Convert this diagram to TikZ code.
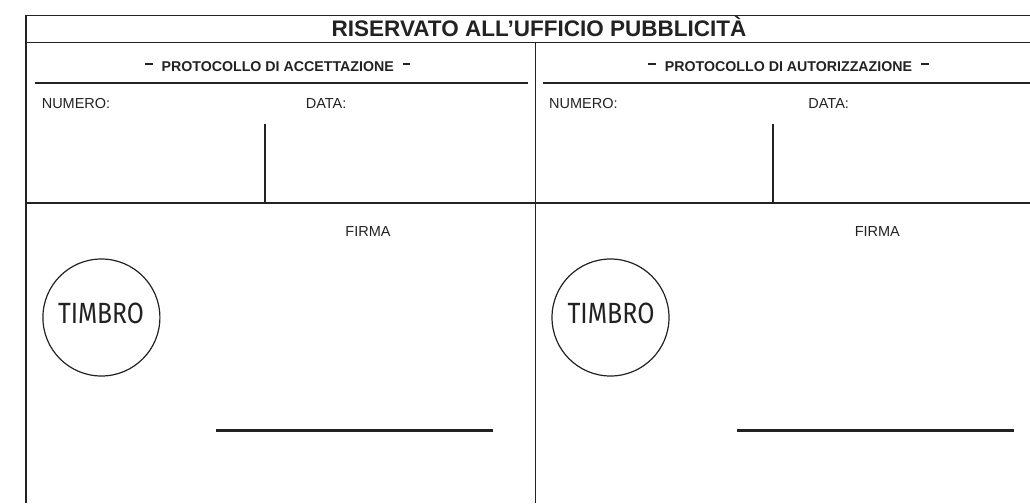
\documentclass[tikz,border=0pt]{standalone}
\usepackage{fontspec}
\setmainfont{Liberation Sans}
\newfontfamily\timbrofont{Fira Sans}
\definecolor{ink}{HTML}{222222}
\definecolor{txt}{HTML}{222222}
\begin{document}
\begin{tikzpicture}[x=1pt,y=-1pt,
  frame/.style={draw=ink,line width=1.7pt},
  sigline/.style={draw=ink,line width=3pt},
  stamp/.style={circle,draw=ink,line width=1.2pt,minimum size=117pt,inner sep=0pt},
  stamptext/.style={inner sep=0pt,text=txt},
  lbl/.style={inner sep=0pt,text=txt,anchor=base west,font=\fontsize{14.5}{16}\selectfont},
  firma/.style={inner sep=0pt,text=txt,anchor=base,font=\fontsize{14.5}{16}\selectfont},
  hdr/.style={inner sep=0pt,text=txt,anchor=base,font=\bfseries\fontsize{14.2}{16}\selectfont},
  ttl/.style={inner sep=0pt,text=txt,anchor=base,font=\bfseries\fontsize{22.5}{26}\selectfont}]
\useasboundingbox (0,0) rectangle (1030,503);
% frame coordinates
\coordinate (tl) at (26,15.5);
\coordinate (tr) at (1030,15.5);
\coordinate (bl) at (26,503);
\coordinate (t1) at (26,42.5);
\coordinate (t2) at (1030,42.5);
\coordinate (d1) at (535.5,42.5);
\coordinate (d2) at (535.5,503);
\coordinate (s1) at (34.5,82.7);
\coordinate (s2) at (527.5,82.7);
\coordinate (s3) at (543,82.7);
\coordinate (s4) at (1030,82.7);
\coordinate (h1) at (26,202.7);
\coordinate (h2) at (1030,202.7);
\coordinate (v1) at (265.3,123.5);
\coordinate (v1b) at (265.3,202.7);
\coordinate (v2) at (773.2,123.5);
\coordinate (v2b) at (773.2,202.7);
\coordinate (f1) at (216,430);
\coordinate (f2) at (492.7,430);
\coordinate (f3) at (737,430);
\coordinate (f4) at (1014,430);
% lines
\draw[frame] (tr) -- (tl) -- (bl);
\draw[frame] (t1) -- (t2);
\draw[frame] (d1) -- (d2);
\draw[frame] (s1) -- (s2);
\draw[frame] (s3) -- (s4);
\draw[frame] (h1) -- (h2);
\draw[frame] (v1) -- (v1b);
\draw[frame] (v2) -- (v2b);
\draw[sigline] (f1) -- (f2);
\draw[sigline] (f3) -- (f4);
% texts
\node[ttl] (title) at (539,36.7) {RISERVATO ALL’UFFICIO PUBBLICITÀ};
\node[hdr] (hdrA) at (277.7,71.3) {\rule[6pt]{7.5pt}{2.5pt}\hspace{9pt}PROTOCOLLO DI ACCETTAZIONE\hspace{9pt}\rule[6pt]{7.5pt}{2.5pt}};
\node[hdr] (hdrB) at (788.5,71.3) {\rule[6pt]{7.5pt}{2.5pt}\hspace{9pt}PROTOCOLLO DI AUTORIZZAZIONE\hspace{9pt}\rule[6pt]{7.5pt}{2.5pt}};
\node[lbl] (numA) at (41.6,108.3) {NUMERO:};
\node[lbl] (dataA) at (305.6,108.3) {DATA:};
\node[lbl] (numB) at (549,108.3) {NUMERO:};
\node[lbl] (dataB) at (808.2,108.3) {DATA:};
\node[firma] (firmaA) at (368,236.6) {FIRMA};
\node[firma] (firmaB) at (877.3,236.6) {FIRMA};
% stamps
\node[stamp] (stampA) at (101.4,317.5) {};
\node[stamp] (stampB) at (610.5,317.5) {};
\node[stamptext] (timbroA) at (101,313.5) {\resizebox{86pt}{20.5pt}{\timbrofont TIMBRO}};
\node[stamptext] (timbroB) at (611,313.5) {\resizebox{87pt}{20.5pt}{\timbrofont TIMBRO}};
\end{tikzpicture}
\end{document}
